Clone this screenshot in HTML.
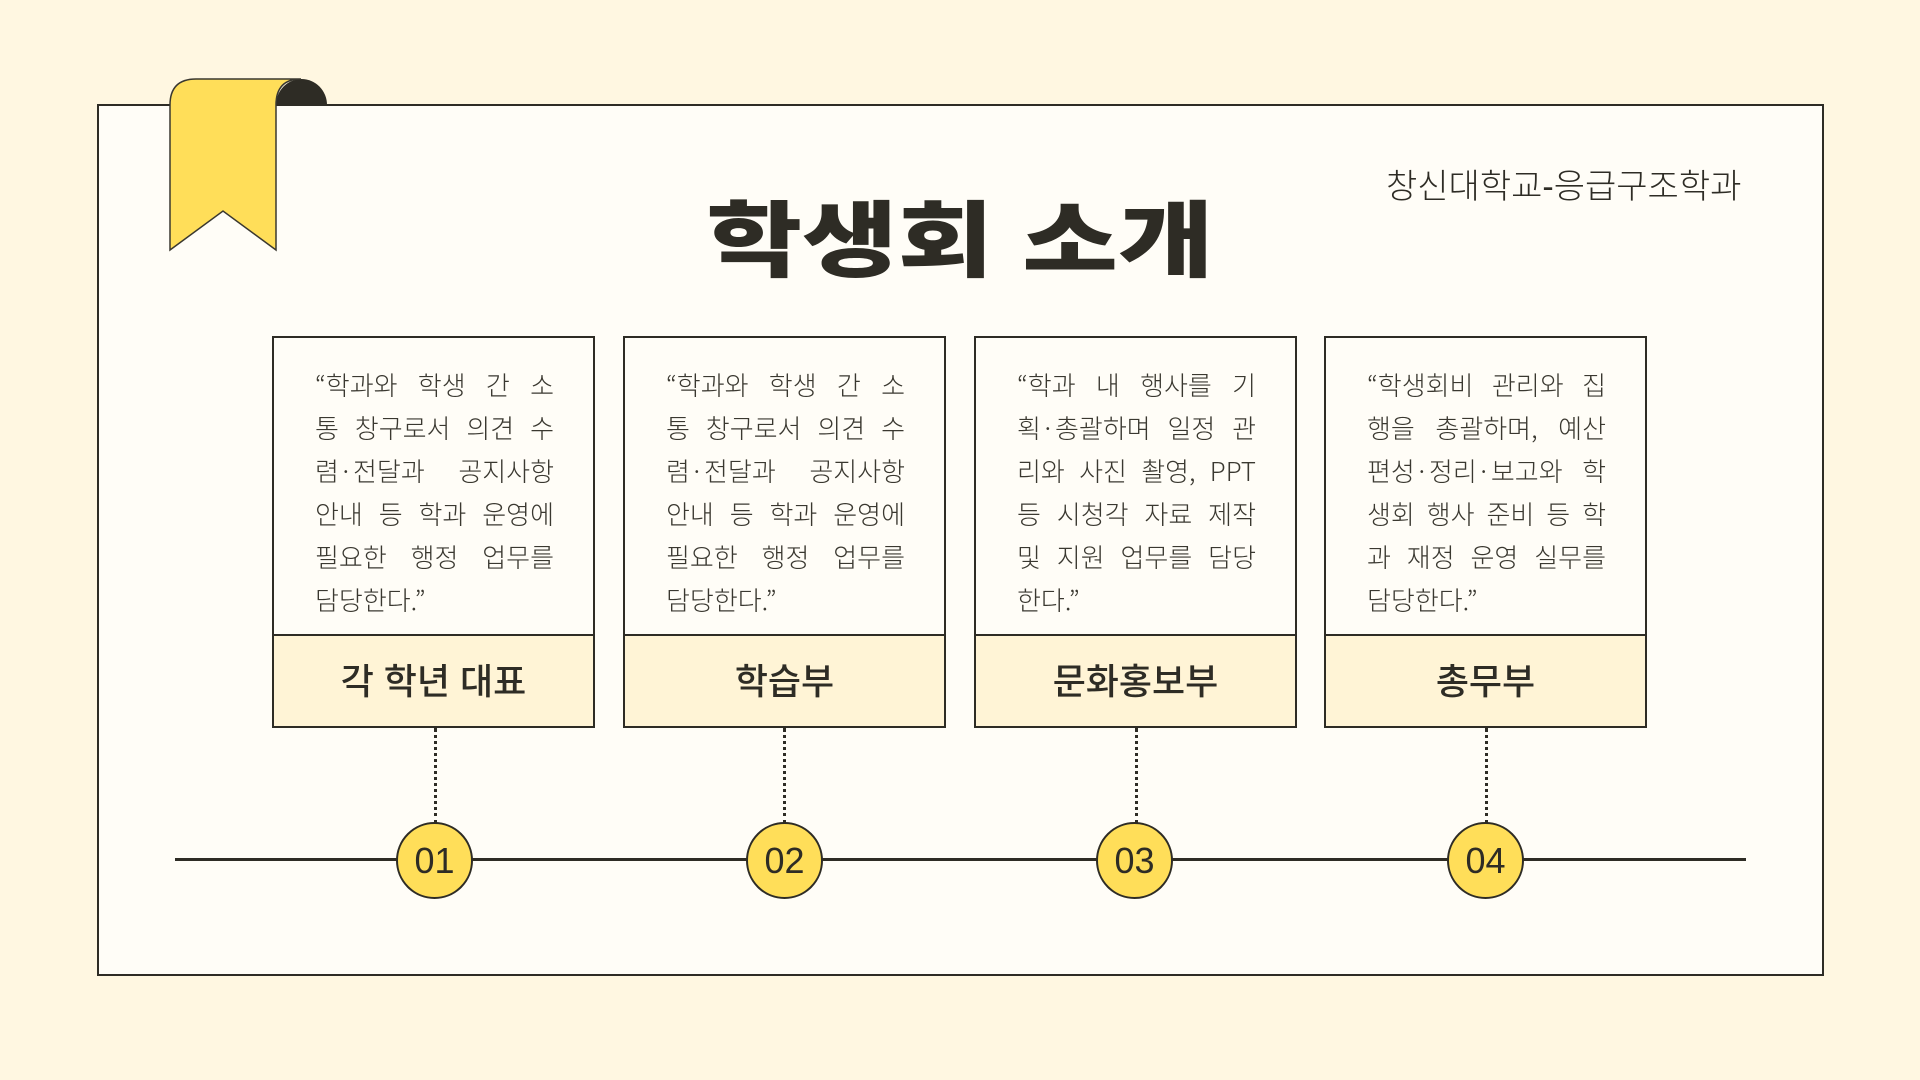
<!DOCTYPE html>
<html><head><meta charset="utf-8"><style>
*{margin:0;padding:0;box-sizing:border-box}
body{width:1920px;height:1080px;background:#fff7e1;position:relative;overflow:hidden;font-family:"Liberation Sans","Noto Sans CJK KR",sans-serif;color:#2e2c25}
.frame{position:absolute;left:97px;top:104px;width:1727px;height:872px;background:#fffdf7;border:2px solid #2e2c25}
.title{position:absolute;left:0;width:1920px;top:182px;text-align:center;font-size:104px;font-weight:900;line-height:120px;letter-spacing:0px;transform:scaleY(0.8)}
.sub{position:absolute;left:1386px;top:166px;font-size:34px;line-height:42px;font-weight:300;white-space:nowrap}
.card{position:absolute;top:336px;width:323px;height:392px;border:2px solid #2e2c25;background:#fffdf7}
.card .txt{position:absolute;left:41px;top:25px;width:239px;font-size:26px;line-height:43px;font-weight:300;color:#3a3830;font-family:"Noto Sans CJK KR",sans-serif}
.card .txt div{text-align:justify;text-align-last:justify;white-space:nowrap}
.card .txt div.l{text-align-last:left}
.card .lab{position:absolute;left:0;right:0;top:296px;bottom:0;border-top:2px solid #2e2c25;background:#fff4d6;text-align:center;font-size:36px;line-height:92px;font-weight:500}
.dot{position:absolute;top:728px;height:96px;border-left:3px dotted #2e2c25}
.tl{position:absolute;left:175px;width:1571px;top:858px;height:3px;background:#2e2c25}
.c{position:absolute;top:822px;width:77px;height:77px;border-radius:50%;background:#ffde59;border:2px solid #2e2c25;text-align:center;line-height:73px;font-size:36px}
</style></head><body>
<div class="frame"></div>
<svg style="position:absolute;left:0;top:0" width="400" height="300">
<path d="M276 105 A25.5 26 0 0 1 327 105 Z" fill="#2e2c25"/>
<path d="M170 105 Q170 79 196 79 L301 79 Q276 79 276 105 L276 250 L223 211 L170 250 Z" fill="#ffde59" stroke="#3a3830" stroke-width="1.5"/>
</svg>
<div class="sub">창신대학교-응급구조학과</div>
<div class="title">학생회 소개</div>

<div class="card" style="left:272px"><div class="txt"><div>“학과와 학생 간 소</div><div>통 창구로서 의견 수</div><div>렴·전달과 공지사항</div><div>안내 등 학과 운영에</div><div>필요한 행정 업무를</div><div class="l">담당한다.”</div></div><div class="lab">각 학년 대표</div></div>
<div class="card" style="left:623px"><div class="txt"><div>“학과와 학생 간 소</div><div>통 창구로서 의견 수</div><div>렴·전달과 공지사항</div><div>안내 등 학과 운영에</div><div>필요한 행정 업무를</div><div class="l">담당한다.”</div></div><div class="lab">학습부</div></div>
<div class="card" style="left:974px"><div class="txt"><div>“학과 내 행사를 기</div><div>획·총괄하며 일정 관</div><div>리와 사진 촬영, PPT</div><div>등 시청각 자료 제작</div><div>및 지원 업무를 담당</div><div class="l">한다.”</div></div><div class="lab">문화홍보부</div></div>
<div class="card" style="left:1324px"><div class="txt"><div>“학생회비 관리와 집</div><div>행을 총괄하며, 예산</div><div>편성·정리·보고와 학</div><div>생회 행사 준비 등 학</div><div>과 재정 운영 실무를</div><div class="l">담당한다.”</div></div><div class="lab">총무부</div></div>

<div class="dot" style="left:434px"></div>
<div class="dot" style="left:783px"></div>
<div class="dot" style="left:1135px"></div>
<div class="dot" style="left:1485px"></div>
<div class="tl"></div>
<div class="c" style="left:396px">01</div>
<div class="c" style="left:746px">02</div>
<div class="c" style="left:1096px">03</div>
<div class="c" style="left:1447px">04</div>
</body></html>
